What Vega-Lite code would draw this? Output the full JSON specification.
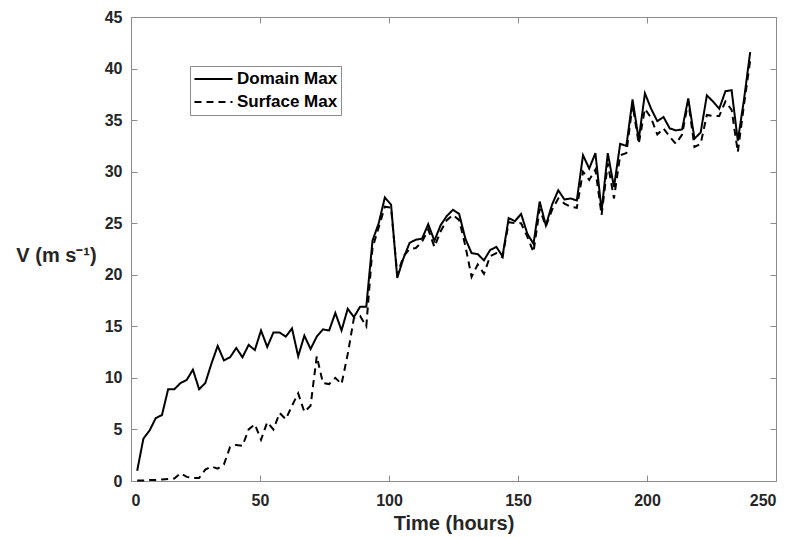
{
  "$schema": "https://vega.github.io/schema/vega-lite/v6.json",
  "width": 645,
  "height": 464,
  "autosize": {"type": "none"},
  "padding": {"left": 131, "top": 17, "right": 18, "bottom": 57},
  "background": "white",
  "config": {
    "font": "Liberation Sans",
    "view": {"stroke": "#8c8c8c", "strokeWidth": 1},
    "axis": {
      "grid": false,
      "domainColor": "#8c8c8c",
      "tickColor": "#8c8c8c",
      "labelFont": "Liberation Sans",
      "labelFontSize": 16,
      "labelFontWeight": "bold",
      "labelColor": "#262626",
      "titleFont": "Liberation Sans",
      "titleFontSize": 20,
      "titleFontWeight": "bold",
      "titleColor": "#262626"
    }
  },
  "data": {
    "values": [
      {"t": 2.4, "Domain Max": 1.0, "Surface Max": 0.05},
      {"t": 4.8, "Domain Max": 4.1, "Surface Max": 0.05},
      {"t": 7.2, "Domain Max": 4.9, "Surface Max": 0.1},
      {"t": 9.6, "Domain Max": 6.1, "Surface Max": 0.1},
      {"t": 12, "Domain Max": 6.4, "Surface Max": 0.15},
      {"t": 14.4, "Domain Max": 8.9, "Surface Max": 0.2},
      {"t": 16.8, "Domain Max": 8.9, "Surface Max": 0.25},
      {"t": 19.2, "Domain Max": 9.5, "Surface Max": 0.75},
      {"t": 21.6, "Domain Max": 9.8, "Surface Max": 0.4},
      {"t": 24, "Domain Max": 10.8, "Surface Max": 0.3},
      {"t": 26.4, "Domain Max": 8.9, "Surface Max": 0.3},
      {"t": 28.8, "Domain Max": 9.5, "Surface Max": 1.1},
      {"t": 31.2, "Domain Max": 11.4, "Surface Max": 1.4},
      {"t": 33.6, "Domain Max": 13.1, "Surface Max": 1.2},
      {"t": 36, "Domain Max": 11.7, "Surface Max": 1.6},
      {"t": 38.4, "Domain Max": 12.0, "Surface Max": 3.3},
      {"t": 40.8, "Domain Max": 12.9, "Surface Max": 3.5},
      {"t": 43.2, "Domain Max": 12.0, "Surface Max": 3.4},
      {"t": 45.6, "Domain Max": 13.2, "Surface Max": 5.0},
      {"t": 48, "Domain Max": 12.7, "Surface Max": 5.5},
      {"t": 50.4, "Domain Max": 14.6, "Surface Max": 4.0},
      {"t": 52.8, "Domain Max": 13.0, "Surface Max": 5.7},
      {"t": 55.2, "Domain Max": 14.4, "Surface Max": 5.0},
      {"t": 57.6, "Domain Max": 14.4, "Surface Max": 6.6},
      {"t": 60, "Domain Max": 14.0, "Surface Max": 6.0},
      {"t": 62.4, "Domain Max": 14.8, "Surface Max": 7.3},
      {"t": 64.8, "Domain Max": 12.1, "Surface Max": 8.5},
      {"t": 67.2, "Domain Max": 14.1, "Surface Max": 6.7},
      {"t": 69.6, "Domain Max": 12.8, "Surface Max": 7.3},
      {"t": 72, "Domain Max": 14.0, "Surface Max": 12.1},
      {"t": 74.4, "Domain Max": 14.7, "Surface Max": 9.5},
      {"t": 76.8, "Domain Max": 14.6, "Surface Max": 9.4},
      {"t": 79.2, "Domain Max": 16.3, "Surface Max": 10.0},
      {"t": 81.6, "Domain Max": 14.6, "Surface Max": 9.4},
      {"t": 84, "Domain Max": 16.7, "Surface Max": 12.3},
      {"t": 86.4, "Domain Max": 15.9, "Surface Max": 15.8},
      {"t": 88.8, "Domain Max": 16.9, "Surface Max": 16.0},
      {"t": 91.2, "Domain Max": 16.9, "Surface Max": 15.0},
      {"t": 93.6, "Domain Max": 23.3, "Surface Max": 22.6},
      {"t": 96, "Domain Max": 25.0, "Surface Max": 24.6},
      {"t": 98.4, "Domain Max": 27.5, "Surface Max": 26.6},
      {"t": 100.8, "Domain Max": 26.8, "Surface Max": 26.5},
      {"t": 103.2, "Domain Max": 19.7, "Surface Max": 20.0},
      {"t": 105.6, "Domain Max": 21.6, "Surface Max": 21.8},
      {"t": 108, "Domain Max": 23.1, "Surface Max": 22.5},
      {"t": 110.4, "Domain Max": 23.4, "Surface Max": 22.6},
      {"t": 112.8, "Domain Max": 23.5, "Surface Max": 23.2},
      {"t": 115.2, "Domain Max": 24.9, "Surface Max": 24.4},
      {"t": 117.6, "Domain Max": 23.3, "Surface Max": 22.7},
      {"t": 120, "Domain Max": 24.8, "Surface Max": 24.2},
      {"t": 122.4, "Domain Max": 25.7, "Surface Max": 25.3},
      {"t": 124.8, "Domain Max": 26.3, "Surface Max": 25.8},
      {"t": 127.2, "Domain Max": 25.9, "Surface Max": 25.3},
      {"t": 129.6, "Domain Max": 23.5, "Surface Max": 22.8},
      {"t": 132, "Domain Max": 22.1, "Surface Max": 19.8},
      {"t": 134.4, "Domain Max": 22.0, "Surface Max": 21.0},
      {"t": 136.8, "Domain Max": 21.4, "Surface Max": 20.1},
      {"t": 139.2, "Domain Max": 22.4, "Surface Max": 21.8},
      {"t": 141.6, "Domain Max": 22.7, "Surface Max": 22.1},
      {"t": 144, "Domain Max": 21.8, "Surface Max": 21.7},
      {"t": 146.4, "Domain Max": 25.5, "Surface Max": 25.1},
      {"t": 148.8, "Domain Max": 25.2, "Surface Max": 25.0},
      {"t": 151.2, "Domain Max": 25.9, "Surface Max": 25.0},
      {"t": 153.6, "Domain Max": 24.0, "Surface Max": 23.7},
      {"t": 156, "Domain Max": 23.0, "Surface Max": 22.2},
      {"t": 158.4, "Domain Max": 27.1, "Surface Max": 26.4},
      {"t": 160.8, "Domain Max": 24.8, "Surface Max": 24.7},
      {"t": 163.2, "Domain Max": 26.8, "Surface Max": 26.3},
      {"t": 165.6, "Domain Max": 28.2, "Surface Max": 27.4},
      {"t": 168, "Domain Max": 27.3, "Surface Max": 26.9},
      {"t": 170.4, "Domain Max": 27.4, "Surface Max": 26.6},
      {"t": 172.8, "Domain Max": 27.2, "Surface Max": 26.5},
      {"t": 175.2, "Domain Max": 31.6, "Surface Max": 30.0},
      {"t": 177.6, "Domain Max": 30.3, "Surface Max": 29.2},
      {"t": 180, "Domain Max": 31.8, "Surface Max": 30.2},
      {"t": 182.4, "Domain Max": 26.2, "Surface Max": 25.8},
      {"t": 184.8, "Domain Max": 31.8, "Surface Max": 30.8},
      {"t": 187.2, "Domain Max": 28.5, "Surface Max": 27.4},
      {"t": 189.6, "Domain Max": 32.7, "Surface Max": 31.6},
      {"t": 192, "Domain Max": 32.5, "Surface Max": 31.8},
      {"t": 194.4, "Domain Max": 37.0, "Surface Max": 36.5},
      {"t": 196.8, "Domain Max": 33.1, "Surface Max": 32.7},
      {"t": 199.2, "Domain Max": 37.6, "Surface Max": 36.1},
      {"t": 201.6, "Domain Max": 36.1, "Surface Max": 35.2},
      {"t": 204, "Domain Max": 34.9, "Surface Max": 33.6},
      {"t": 206.4, "Domain Max": 35.3, "Surface Max": 34.2},
      {"t": 208.8, "Domain Max": 34.2, "Surface Max": 33.4},
      {"t": 211.2, "Domain Max": 34.0, "Surface Max": 32.7},
      {"t": 213.6, "Domain Max": 34.1, "Surface Max": 33.6},
      {"t": 216, "Domain Max": 37.1, "Surface Max": 36.8},
      {"t": 218.4, "Domain Max": 33.2, "Surface Max": 32.4},
      {"t": 220.8, "Domain Max": 33.8, "Surface Max": 32.7},
      {"t": 223.2, "Domain Max": 37.4, "Surface Max": 35.5},
      {"t": 225.6, "Domain Max": 36.8, "Surface Max": 35.4},
      {"t": 228, "Domain Max": 36.1, "Surface Max": 35.4},
      {"t": 230.4, "Domain Max": 37.8, "Surface Max": 36.8},
      {"t": 232.8, "Domain Max": 37.9, "Surface Max": 36.0},
      {"t": 235.2, "Domain Max": 33.0, "Surface Max": 31.9},
      {"t": 237.6, "Domain Max": 37.0, "Surface Max": 36.5},
      {"t": 240, "Domain Max": 41.6, "Surface Max": 40.8}
    ]
  },
  "transform": [{"fold": ["Domain Max", "Surface Max"], "as": ["series", "v"]}],
  "layer": [
    {
      "mark": {"type": "line", "color": "black", "strokeWidth": 2},
      "encoding": {
        "x": {
          "field": "t", "type": "quantitative",
          "scale": {"domain": [0, 250], "nice": false, "zero": false},
          "axis": {
            "orient": "bottom", "values": [0, 50, 100, 150, 200, 250],
            "tickSize": -6, "labelPadding": 17,
            "title": "Time (hours)", "titleBaseline": "top", "titleY": 32
          }
        },
        "y": {
          "field": "v", "type": "quantitative",
          "scale": {"domain": [0, 45], "nice": false},
          "axis": {
            "orient": "left", "values": [0, 5, 10, 15, 20, 25, 30, 35, 40, 45],
            "tickSize": -6, "labelPadding": 15,
            "title": "V (m s⁻¹)", "titleAngle": 0, "titleAlign": "center",
            "titleBaseline": "middle", "titleX": -75, "titleY": 238
          }
        },
        "strokeDash": {
          "field": "series", "type": "nominal",
          "scale": {"domain": ["Domain Max", "Surface Max"], "range": [[1, 0], [7, 5]]},
          "legend": {
            "title": null, "orient": "none", "legendX": 59, "legendY": 49,
            "strokeColor": "#8c8c8c", "padding": 3, "fillColor": "white",
            "symbolType": "stroke", "symbolSize": 1450, "symbolStrokeWidth": 2,
            "symbolStrokeColor": "black", "clipHeight": 20,
            "labelFont": "Liberation Sans", "labelFontSize": 17, "labelFontWeight": "bold",
            "labelColor": "black", "labelOffset": 3, "rowPadding": 3
          }
        }
      }
    },
    {
      "mark": {"type": "line", "opacity": 0},
      "encoding": {
        "x": {
          "field": "t", "type": "quantitative",
          "axis": {"orient": "top", "values": [0, 50, 100, 150, 200, 250], "labels": false, "title": null, "tickSize": -6}
        },
        "y": {
          "field": "v", "type": "quantitative",
          "axis": {"orient": "right", "values": [0, 5, 10, 15, 20, 25, 30, 35, 40, 45], "labels": false, "title": null, "tickSize": -6}
        }
      }
    }
  ],
  "resolve": {"axis": {"x": "independent", "y": "independent"}}
}
